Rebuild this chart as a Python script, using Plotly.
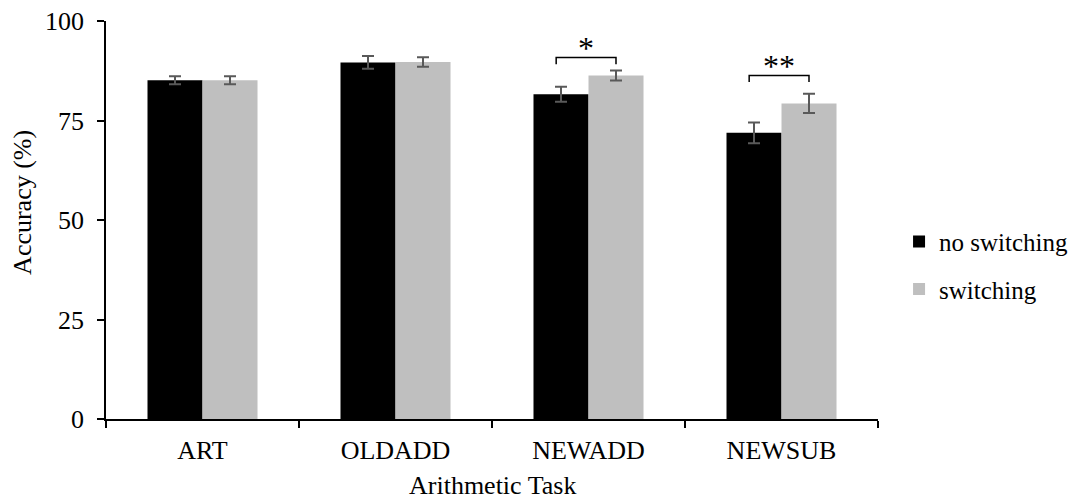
import plotly.graph_objects as go

categories = ["ART", "OLDADD", "NEWADD", "NEWSUB"]
no_switching = [85.1, 89.6, 81.6, 71.9]
no_switching_err = [1.0, 1.6, 1.9, 2.6]
switching = [85.1, 89.7, 86.3, 79.3]
switching_err = [1.0, 1.2, 1.25, 2.4]
sig_labels = ["", "", "*", "**"]
sig_bracket_levels = [None, None, 90.8, 86.3]

FONT = "Liberation Serif, Times New Roman, serif"
ERR_COLOR = "#595959"
FS = 26

fig = go.Figure()
fig.add_trace(go.Bar(
    name="no switching", x=categories, y=no_switching,
    marker=dict(color="#000000", line=dict(width=0)),
    error_y=dict(type="data", array=no_switching_err, color=ERR_COLOR, thickness=2, width=6),
    legendgroup="a",
))
fig.add_trace(go.Bar(
    name="switching", x=categories, y=switching,
    marker=dict(color="#BFBFBF", line=dict(width=0)),
    error_y=dict(type="data", array=switching_err, color=ERR_COLOR, thickness=2, width=6),
    legendgroup="b",
))

bargap = 0.43
half = (1 - bargap) / 2  # width of one bar in category units
shapes = []
annotations = []
for i, lab in enumerate(sig_labels):
    if not lab:
        continue
    y_line = sig_bracket_levels[i]
    x0 = i - half / 2 - 0.025
    x1 = i + half / 2
    shapes.append(dict(type="path", xref="x", yref="y",
                       path=f"M {x0},{y_line-1.65} L {x0},{y_line} L {x1},{y_line} L {x1},{y_line-1.65}",
                       line=dict(color="black", width=1.5)))
    annotations.append(dict(x=(x0 + x1) / 2, y=y_line, xref="x", yref="y", text=lab,
                            showarrow=False, yanchor="bottom", yshift=-10,
                            font=dict(family=FONT, size=32, color="black")))

annotations.append(dict(text="Accuracy (%)", xref="paper", yref="paper",
                        x=-0.1075, y=0.543, xanchor="center", yanchor="middle",
                        textangle=-90, showarrow=False,
                        font=dict(family=FONT, size=FS, color="black")))
annotations.append(dict(text="Arithmetic Task", xref="paper", yref="paper",
                        x=0.5, y=-0.168, xanchor="center", yanchor="middle",
                        showarrow=False,
                        font=dict(family=FONT, size=FS, color="black")))

fig.update_layout(
    barmode="group", bargap=bargap, bargroupgap=0,
    width=1078, height=500,
    margin=dict(l=106, r=200, t=21, b=81, autoexpand=False),
    paper_bgcolor="white", plot_bgcolor="white",
    font=dict(family=FONT, size=FS, color="black"),
    shapes=shapes, annotations=annotations,
    legend=dict(xref="container", x=0.834, y=0.386, xanchor="left", yanchor="middle",
                traceorder="grouped", tracegroupgap=12,
                font=dict(family=FONT, size=25, color="black")),
    showlegend=True,
)
fig.update_xaxes(
    showline=True, linecolor="black", linewidth=1.5,
    ticks="outside", tickson="boundaries", ticklen=7, tickcolor="black", tickwidth=1.5,
    tickfont=dict(size=FS), automargin=False, ticklabelstandoff=7,
)
fig.update_yaxes(
    range=[0, 100], tickvals=[0, 25, 50, 75, 100],
    showline=True, linecolor="black", linewidth=1.5,
    ticks="outside", ticklen=7, tickcolor="black", tickwidth=1.5,
    showgrid=False, zeroline=False,
    tickfont=dict(size=FS), automargin=False, ticklabelstandoff=8,
)

fig.write_html("out.html")
